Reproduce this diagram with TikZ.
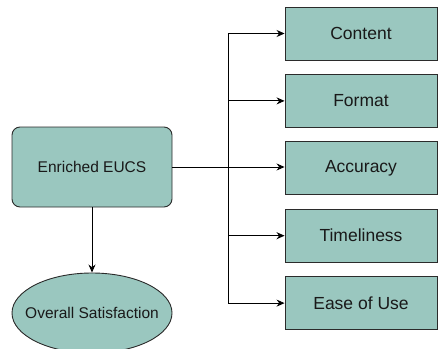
\documentclass[tikz,border=0pt]{standalone}
\usepackage{fontspec}
\setmainfont{Liberation Sans}
\usetikzlibrary{positioning,shapes.geometric,arrows.meta}

\definecolor{boxfill}{HTML}{9AC7BF}
\definecolor{boxline}{HTML}{2B2B2B}

\tikzset{
	dim/.style={draw=boxline, line width=0.9pt, fill=boxfill, text=black!90},
	mainbox/.style={dim, rectangle, rounded corners=8pt, minimum width=160pt, minimum height=80pt, font=\fontsize{15.5}{18}\selectfont},
	outcome/.style={dim, ellipse, minimum width=160pt, minimum height=80pt, inner xsep=-12pt, inner ysep=0pt, font=\fontsize{15.5}{18}\selectfont},
	dimbox/.style={dim, rectangle, minimum width=152pt, minimum height=53pt, font=\fontsize{17.5}{20}\selectfont},
	arr/.style={-{Stealth[length=8pt,width=7pt]}, line width=0.9pt, black}
}

\begin{document}
\begin{tikzpicture}[x=1pt, y=-1pt]
	% canvas
	\useasboundingbox (0,0) rectangle (438,348);

	% left side: model and outcome
	\node [mainbox] (eucs) at (92,167) {Enriched EUCS};
	\node [outcome] (sat) at (92,313) {Overall Satisfaction};

	% right side: the five dimensions
	\node [dimbox] (content) at (361,33.5) {Content};
	\node [dimbox, below=13.5pt of content] (format) {Format};
	\node [dimbox, below=13.5pt of format] (accuracy) {Accuracy};
	\node [dimbox, below=13.5pt of accuracy] (timeliness) {Timeliness};
	\node [dimbox, below=13.5pt of timeliness] (ease) {Ease of Use};

	% branching point
	\coordinate (split) at (228,167);

	% connectors
	\draw [arr] (eucs) -- (sat);
	\draw [arr] (eucs.east) -- (eucs.east -| accuracy.west);
	\draw [line width=0.9pt] (content.west -| split) -- (ease.west -| split);
	\foreach \dimname in {content, format, timeliness, ease}
		\draw [arr] (\dimname.west -| split) -- (\dimname.west);
\end{tikzpicture}
\end{document}
